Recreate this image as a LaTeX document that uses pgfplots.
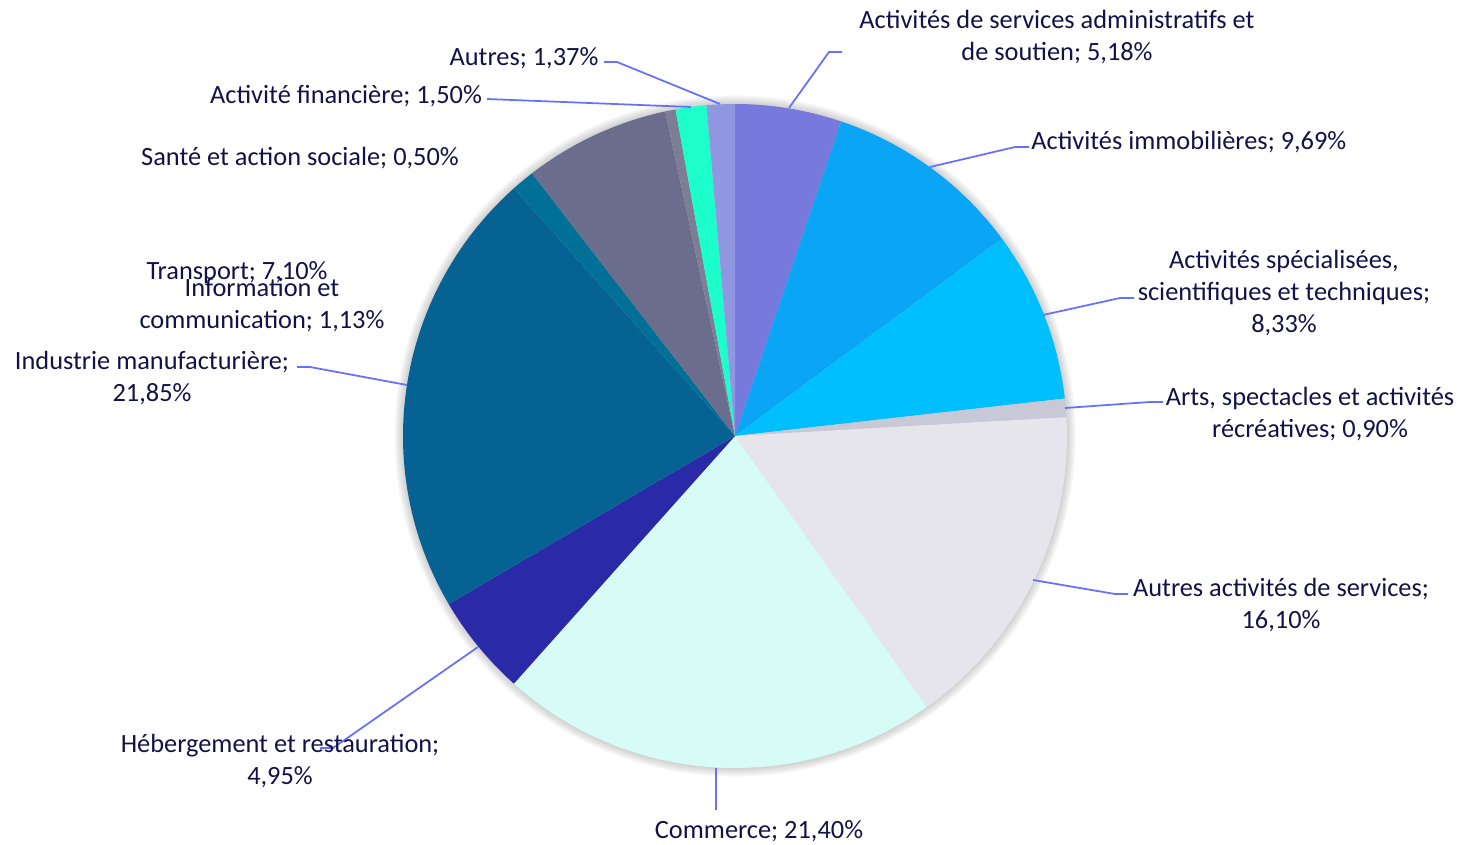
\documentclass[border=0pt]{standalone}
\usepackage{pgfplots}
\usepackage{pgfplotstable}
\pgfplotsset{compat=1.18}
\usepackage{fontspec}
\setmainfont{Carlito}

\definecolor{cAdmin}{RGB}{119,121,221}
\definecolor{cImmo}{RGB}{11,165,245}
\definecolor{cSpec}{RGB}{0,191,255}
\definecolor{cArts}{RGB}{200,200,214}
\definecolor{cAutAct}{RGB}{229,229,235}
\definecolor{cComm}{RGB}{214,252,245}
\definecolor{cHeb}{RGB}{42,42,168}
\definecolor{cInd}{RGB}{6,98,146}
\definecolor{cInfo}{RGB}{0,112,150}
\definecolor{cTrans}{RGB}{107,109,140}
\definecolor{cSante}{RGB}{125,125,150}
\definecolor{cFin}{RGB}{28,255,205}
\definecolor{cAutres}{RGB}{145,150,225}
\definecolor{txt}{RGB}{18,18,72}
\definecolor{lead}{RGB}{102,112,255}

% shares in %, clockwise from 12 o'clock
\pgfplotstableread{
val col
5.18 cAdmin
9.69 cImmo
8.33 cSpec
0.90 cArts
16.10 cAutAct
21.40 cComm
4.95 cHeb
21.85 cInd
1.13 cInfo
7.10 cTrans
0.50 cSante
1.50 cFin
1.37 cAutres
}\slices

\begin{document}
\begin{tikzpicture}[
  lbl/.style={font=\fontsize{15}{18.2}\selectfont, text=txt, align=center, inner sep=0pt},
  ld/.style={draw=lead, line width=1pt},
]
\begin{axis}[
  x=0.2mm, y=0.2mm,
  xmin=0, xmax=1468, ymin=0, ymax=845,
  hide axis, clip=false, scale only axis,
]
\pgfplotsextra{
  \path (axis cs:0,0) rectangle (axis cs:1468,845);
  % soft shadow round the pie
  \foreach \k in {1,...,8}{
    \fill[black, opacity=0.022] (axis cs:735,409) circle[radius={66.4mm+\k*0.22mm}];
  }
  \xdef\cum{0}
  \foreach \i in {0,...,12}{
    \pgfplotstablegetelem{\i}{val}\of\slices \let\slval\pgfplotsretval
    \pgfplotstablegetelem{\i}{col}\of\slices \let\slcol\pgfplotsretval
    \pgfmathsetmacro\sa{90-3.6*\cum}
    \pgfmathsetmacro\sb{90-3.6*(\cum+\slval)}
    \fill[fill=\slcol] (axis cs:735,409) -- ++(\sa:66.4mm)
      arc[start angle=\sa, end angle=\sb, radius=66.4mm] -- cycle;
    \pgfmathsetmacro\nc{\cum+\slval}\xdef\cum{\nc}
  }
}
% leader lines
\draw[ld] (axis cs:789,737) -- (axis cs:829,793) -- (axis cs:842,793);
\draw[ld] (axis cs:930,678) -- (axis cs:1015,698) -- (axis cs:1029,698);
\draw[ld] (axis cs:1043,530) -- (axis cs:1120,547) -- (axis cs:1134,547);
\draw[ld] (axis cs:1065,437) -- (axis cs:1150,443) -- (axis cs:1163,443);
\draw[ld] (axis cs:1033,265) -- (axis cs:1115,251) -- (axis cs:1128,251);
\draw[ld] (axis cs:716,77) -- (axis cs:716,35);
\draw[ld] (axis cs:478,198) -- (axis cs:333,97) -- (axis cs:320,97);
\draw[ld] (axis cs:407,460) -- (axis cs:310,478) -- (axis cs:297,478);
\draw[ld] (axis cs:691,738) -- (axis cs:487,746);
\draw[ld] (axis cs:720,741) -- (axis cs:617,783) -- (axis cs:604,783);
% labels
\node[lbl] at (axis cs:1057,808) {Activités de services administratifs et\\de soutien; 5,18\%};
\node[lbl, anchor=west] at (axis cs:1031,703) {Activités immobilières; 9,69\%};
\node[lbl] at (axis cs:1284,552) {Activités spécialisées,\\scientifiques et techniques;\\8,33\%};
\node[lbl] at (axis cs:1310,431) {Arts, spectacles et activités\\récréatives; 0,90\%};
\node[lbl] at (axis cs:1281,240) {Autres activités de services;\\16,10\%};
\node[lbl] at (axis cs:759,14) {Commerce; 21,40\%};
\node[lbl] at (axis cs:280,84) {Hébergement et restauration;\\4,95\%};
\node[lbl] at (axis cs:152,467) {Industrie manufacturière;\\21,85\%};
\node[lbl] at (axis cs:262,540) {Information et\\communication; 1,13\%};
\node[lbl] at (axis cs:237,572) {Transport; 7,10\%};
\node[lbl] at (axis cs:300,687) {Santé et action sociale; 0,50\%};
\node[lbl] at (axis cs:346,749) {Activité financière; 1,50\%};
\node[lbl] at (axis cs:524,787) {Autres; 1,37\%};
\end{axis}
\end{tikzpicture}
\end{document}
